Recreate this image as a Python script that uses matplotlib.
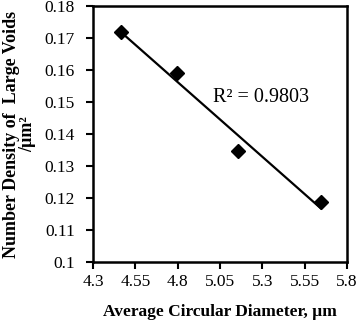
import numpy as np
import matplotlib
matplotlib.use("Agg")
import matplotlib.pyplot as plt

diam = [4.465, 4.796, 5.155, 5.647]
density = [0.172, 0.159, 0.1348, 0.1188]
xticks = [4.3, 4.55, 4.8, 5.05, 5.3, 5.55, 5.8]
xticklabels = ["4.3", "4.55", "4.8", "5.05", "5.3", "5.55", "5.8"]
yticks = [0.1, 0.11, 0.12, 0.13, 0.14, 0.15, 0.16, 0.17, 0.18]
yticklabels = ["0.1", "0.11", "0.12", "0.13", "0.14", "0.15", "0.16", "0.17", "0.18"]

plt.rcParams['font.family'] = ['Liberation Serif', 'DejaVu Serif']
plt.rcParams['mathtext.fontset'] = 'stix'

fig = plt.figure(figsize=(3.57, 3.22), dpi=100)
ax = fig.add_axes([93/357, 60/322, 254/357, 256/322])

x = np.array(diam); y = np.array(density)
m, b = np.polyfit(x, y, 1)
xf = np.array([x.min(), x.max()])
ax.plot(xf, m*xf + b, color='black', lw=1.6, zorder=2)
ax.plot(x, y, 'D', color='black', ms=7, zorder=3)

ax.set_xlim(4.3, 5.8)
ax.set_ylim(0.1, 0.18)
ax.set_xticks(xticks)
ax.set_xticklabels(xticklabels)
ax.set_yticks(yticks)
ax.set_yticklabels(yticklabels)
ax.tick_params(direction='out', length=5, width=1.5, labelsize=12.5)
ax.tick_params(axis='y', pad=8)
ax.tick_params(axis='x', pad=4)
for s in ax.spines.values():
    s.set_linewidth(1.8)

ax.text(5.01, 0.15, "R² = 0.9803", fontsize=14.5, ha='left', va='baseline')
ax.set_xlabel("Average Circular Diameter, µm", fontsize=12.5, fontweight='bold', labelpad=10)
ax.set_ylabel("Number Density of  Large Voids\n/µm²", fontsize=13, fontweight='bold', labelpad=6, linespacing=0.95)

fig.savefig("out.png", dpi=100)
